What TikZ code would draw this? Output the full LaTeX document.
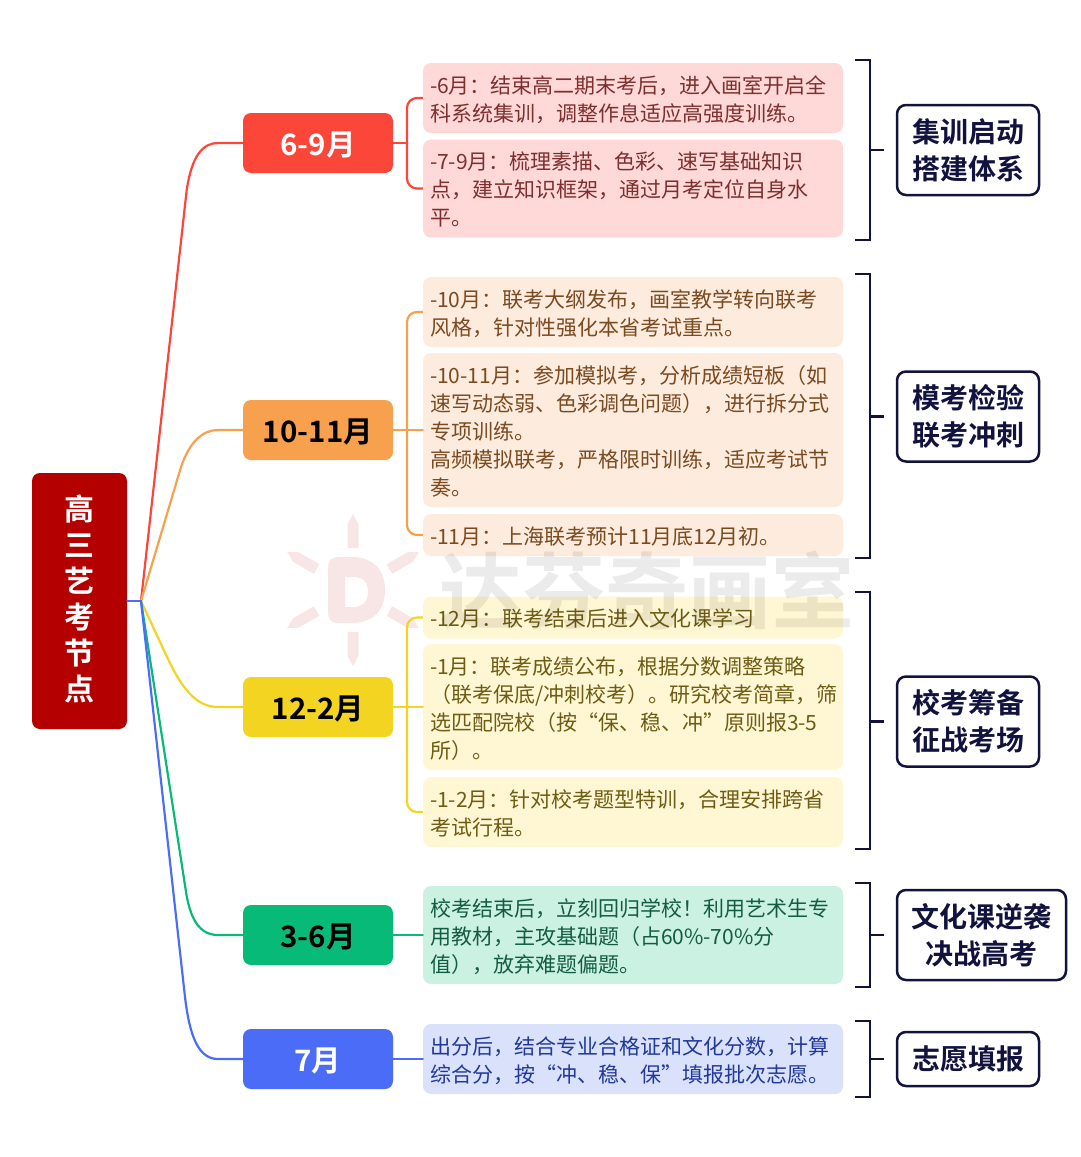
\documentclass[tikz,border=0pt]{standalone}
\usepackage{fontspec}
\setmainfont{Noto Sans CJK SC}[BoldFont=Noto Sans CJK SC Bold]
\definecolor{rootred}{HTML}{B50000}
\definecolor{navy}{HTML}{12123E}
\definecolor{redc}{HTML}{FC4639}
\definecolor{orangec}{HTML}{F7A04E}
\definecolor{yellowc}{HTML}{F2D421}
\definecolor{greenc}{HTML}{08BA78}
\definecolor{bluec}{HTML}{4A6CF7}
\definecolor{redfill}{HTML}{FFD9D7}
\definecolor{orangefill}{HTML}{FDECDE}
\definecolor{yellowfill}{HTML}{FFF7D3}
\definecolor{greenfill}{HTML}{CBF1E2}
\definecolor{bluefill}{HTML}{D9E1FB}
\definecolor{redtext}{HTML}{7D2F2F}
\definecolor{orangetext}{HTML}{7A4A20}
\definecolor{yellowtext}{HTML}{6E5C14}
\definecolor{greentext}{HTML}{135C42}
\definecolor{bluetext}{HTML}{22399A}
\definecolor{sunpink}{HTML}{F8E6E6}
\tikzset{
  root/.style={fill=rootred,text=white,rounded corners=8pt,minimum width=95pt,minimum height=256pt,
    inner sep=0pt,align=center,font=\fontsize{30}{36}\selectfont\bfseries,
    execute at end node=\rule[-7pt]{0pt}{7pt}},
  month/.style={rounded corners=8pt,minimum width=150pt,minimum height=60pt,inner sep=0pt,
    text height=26pt,text depth=2pt,font=\fontsize{29.5}{36}\selectfont\bfseries},
  detail/.style={rounded corners=8pt,text width=406pt,inner xsep=7pt,inner ysep=7pt,align=left,
    font=\fontsize{21}{28}\selectfont,execute at begin node=\rule{0pt}{23.1pt},
    execute at end node=\rule[-4.9pt]{0pt}{4.9pt}},
  sumbox/.style={draw=navy,line width=2.5pt,fill=white,text=navy,rounded corners=9pt,inner sep=0pt,
    minimum width=142pt,align=center,font=\fontsize{28}{37}\selectfont\bfseries},
  link/.style={line width=2.2pt,line cap=round},
  twig/.style={line width=2.2pt,rounded corners=10pt},
  brace/.style={draw=navy,line width=2.2pt}
}
\begin{document}
\begin{tikzpicture}[x=1pt,y=-1pt]
\useasboundingbox (0,0) rectangle (1080,1157);

\foreach \a in {0,60,120,180,240,300}
\fill[sunpink,shift={(353,590)},rotate=\a] (-5.5,-42) -- (-5.5,-66) -- (0,-76) -- (5.5,-66) -- (5.5,-42) -- cycle;
\fill[sunpink,even odd rule] (338,557) -- (352,557) .. controls (373,557) and (385,570) .. (385,590) .. controls (385,610) and (373,623) .. (352,623) -- (338,623) .. controls (331,623) and (328,619) .. (328,612) -- (328,568) .. controls (328,561) and (331,557) .. (338,557)
 (345,577) -- (354,577) .. controls (363,577) and (368,582) .. (368,592) .. controls (368,602) and (362,607) .. (354,607) -- (345,607) -- cycle;

\node[root] (root) at (79.5,601) {高\\三\\艺\\考\\节\\点};
\coordinate (hub) at (141,601);

\node[month,fill=redc,text=white] (m1) at (318,143) {6-9月};
\node[month,fill=orangec,text=black] (m2) at (318,430) {10-11月};
\node[month,fill=yellowc,text=black] (m3) at (318,707) {12-2月};
\node[month,fill=greenc,text=black] (m4) at (318,935) {3-6月};
\node[month,fill=bluec,text=white] (m5) at (318,1059) {7月};

\draw[link,redc] (hub) -- (186.7,190) .. controls (192,155) and (203,143) .. (218,143) -- (m1.west);
\draw[link,orangec] (hub) -- (181,467) .. controls (190,441) and (203,430) .. (218,430) -- (m2.west);
\draw[link,yellowc] (hub) -- (168,659) .. controls (181,686) and (195,707) .. (218,707) -- (m3.west);
\draw[link,greenc] (hub) -- (186.5,895) .. controls (191,920) and (200,935) .. (218,935) -- (m4.west);
\draw[link,bluec] (hub) -- (185,997) .. controls (190,1040) and (200,1059) .. (218,1059) -- (m5.west);
\draw[link,bluec] (root.east |- hub) -- (hub);

\node[detail,fill=redfill,text=redtext] (b1) at (633,98) {-6月：结束高二期末考后，进入画室开启全\\科系统集训，调整作息适应高强度训练。};
\node[detail,fill=redfill,text=redtext] (b2) at (633,188.5) {-7-9月：梳理素描、色彩、速写基础知识\\点，建立知识框架，通过月考定位自身水\\平。};
\node[detail,fill=orangefill,text=orangetext] (b3) at (633,312) {-10月：联考大纲发布，画室教学转向联考\\风格，针对性强化本省考试重点。};
\node[detail,fill=orangefill,text=orangetext] (b4) at (633,430) {-10-11月：参加模拟考，分析成绩短板（如\\速写动态弱、色彩调色问题），进行拆分式\\专项训练。\\高频模拟联考，严格限时训练，适应考试节\\奏。};
\node[detail,fill=orangefill,text=orangetext] (b5) at (633,535) {-11月：上海联考预计11月底12月初。};
\node[detail,fill=yellowfill,text=yellowtext] (b6) at (633,617.5) {-12月：联考结束后进入文化课学习};
\node[detail,fill=yellowfill,text=yellowtext] (b7) at (633,707) {-1月：联考成绩公布，根据分数调整策略\\（联考保底/冲刺校考）。研究校考简章，筛\\选匹配院校（按“保、稳、冲”原则报3-5\\所）。};
\node[detail,fill=yellowfill,text=yellowtext] (b8) at (633,812) {-1-2月：针对校考题型特训，合理安排跨省\\考试行程。};
\node[detail,fill=greenfill,text=greentext] (b9) at (633,935) {校考结束后，立刻回归学校！利用艺术生专\\用教材，主攻基础题（占60\%-70\%分\\值），放弃难题偏题。};
\node[detail,fill=bluefill,text=bluetext] (b10) at (633,1059) {出分后，结合专业合格证和文化分数，计算\\综合分，按“冲、稳、保”填报批次志愿。};

\draw[twig,redc] (b1.west) -| (407,143) |- (b2.west);
\draw[twig,orangec] (b3.west) -| (407,430) |- (b5.west);
\draw[twig,yellowc] (b6.west) -| (407,707) |- (b8.west);
\draw[link,redc] (m1.east) -- (407,143);
\draw[link,orangec] (m2.east) -- (b4.west);
\draw[link,yellowc] (m3.east) -- (b7.west);
\draw[link,greenc] (m4.east) -- (b9.west);
\draw[link,bluec] (m5.east) -- (b10.west);

\node[sumbox,minimum height=90pt] (s1) at (968,150) {集训启动\\搭建体系};
\node[sumbox,minimum height=90pt] (s2) at (968,416.5) {模考检验\\联考冲刺};
\node[sumbox,minimum height=90pt] (s3) at (968,721.5) {校考筹备\\征战考场};
\node[sumbox,minimum height=90pt,minimum width=169pt] (s4) at (981.5,935) {文化课逆袭\\决战高考};
\node[sumbox,minimum height=54pt] (s5) at (968,1059) {志愿填报};

\foreach \n/\ya/\yb in {1/60/240,2/274/558,3/592/849,4/883/987,5/1021/1097}
{
\draw[brace] (855,\ya) -| (870,\yb) -- (855,\yb);
\draw[brace] ([xshift=-12pt]s\n.west) -- ++(-15,0);
}

\node[text=black,opacity=.08,font=\fontsize{83}{83}\selectfont\bfseries,inner sep=0pt] (mark) at (647,591) {达芬奇画室};
\end{tikzpicture}
\end{document}
